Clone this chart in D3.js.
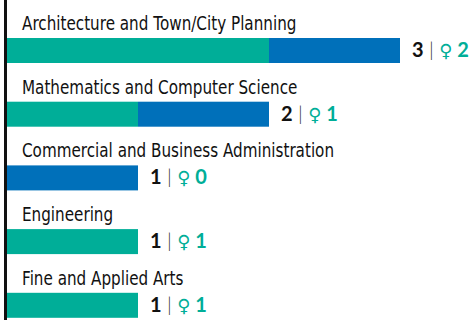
<!DOCTYPE html>
<html lang="en">
<head>
    <meta charset="UTF-8">
    <title>Degrees by field</title>
    <script src="https://d3js.org/d3.v7.min.js"></script>
    <style>
        body { margin: 0; background: #fff; }
    </style>
</head>
<body>
    <svg width="472" height="320"></svg>

    <script>
        // Data
        const categories = [
            "Architecture and Town/City Planning",
            "Mathematics and Computer Science",
            "Commercial and Business Administration",
            "Engineering",
            "Fine and Applied Arts"
        ];
        const totals = [3, 2, 1, 1, 1];
        const women = [2, 1, 0, 1, 1];

        const teal = "#00ae98";
        const blue = "#0070ba";

        const svg = d3.select("svg");

        const x = d3.scaleLinear().domain([0, 3]).range([7, 400]);
        const y = d3.scaleBand()
            .domain(categories)
            .range([0, 318.5])
            .paddingInner(0);

        const rows = svg.selectAll("g.row")
            .data(categories)
            .enter().append("g")
            .attr("class", "row")
            .attr("transform", d => `translate(0,${y(d)})`);

        const barTop = 38, barH = 25;

        // Women part (teal)
        rows.append("rect")
            .attr("x", x(0))
            .attr("y", barTop)
            .attr("width", (d, i) => x(women[i]) - x(0))
            .attr("height", barH)
            .attr("fill", teal);

        // Remaining part (blue)
        rows.append("rect")
            .attr("x", (d, i) => x(women[i]))
            .attr("y", barTop)
            .attr("width", (d, i) => x(totals[i]) - x(women[i]))
            .attr("height", barH)
            .attr("fill", blue);

        // Category labels (squeezed horizontally to mimic a condensed face)
        rows.append("text")
            .attr("transform", "translate(22,30) scale(0.76,1)")
            .attr("font-family", "'DejaVu Sans', sans-serif")
            .attr("font-size", 20)
            .attr("fill", "#111")
            .text(d => d);

        // Value labels
        const val = rows.append("text")
            .attr("x", (d, i) => x(totals[i]) + 12)
            .attr("y", barTop + 19)
            .attr("font-family", "Lato, 'Open Sans', sans-serif")
            .attr("font-size", 20);

        val.append("tspan")
            .attr("font-weight", "bold")
            .attr("fill", "#111")
            .text((d, i) => totals[i]);
        val.append("tspan")
            .attr("fill", "#333")
            .attr("font-weight", "300")
            .text(" | ");
        val.append("tspan")
            .attr("fill", teal)
            .attr("font-family", "'DejaVu Sans', sans-serif")
            .attr("font-size", 18)
            .text("♀");
        val.append("tspan")
            .attr("fill", teal)
            .attr("font-weight", "bold")
            .text((d, i) => " " + women[i]);

        // Left axis line
        svg.append("line")
            .attr("x1", 5.5).attr("x2", 5.5)
            .attr("y1", 0).attr("y2", 320)
            .attr("stroke", "#111")
            .attr("stroke-width", 3);
    </script>
</body>
</html>
